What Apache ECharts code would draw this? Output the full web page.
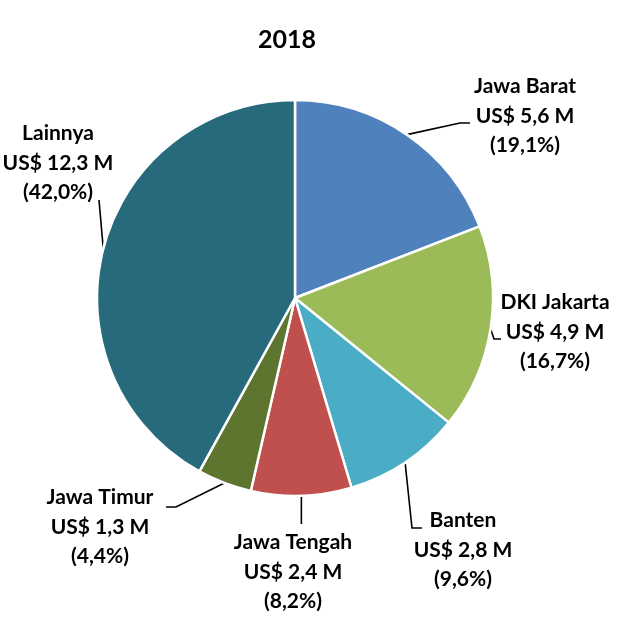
<!DOCTYPE html>
<html>
<head>
<meta charset="utf-8">
<script src="https://cdn.jsdelivr.net/npm/echarts@6/dist/echarts.min.js"></script>
<style>
  html, body { margin: 0; padding: 0; background: #fff; }
  #chart { width: 625px; height: 620px; }
</style>
</head>
<body>
<div id="chart"></div>
<script>
// Investment by province, 2018 (US$ million)
const regions = ['Jawa Barat', 'DKI Jakarta', 'Banten', 'Jawa Tengah', 'Jawa Timur', 'Lainnya'];
const values = [5.6, 4.9, 2.8, 2.4, 1.3, 12.3];
const shares = [19.1, 16.7, 9.6, 8.2, 4.4, 42.0];
const colors = ['#4F81BD', '#9BBB59', '#4BACC6', '#C0504D', '#5E7530', '#276A7C'];

// Label block centres and the elbow of each leader line (null x = keep the line vertical)
const labelSpots = [
  { x: 525, y: 116, elbow: [[460, 123], [470, 123]] },
  { x: 555, y: 332, elbow: [[494, 339], [501, 339]] },
  { x: 463, y: 550, elbow: [[412, 528], [422, 528]] },
  { x: 293, y: 572, elbow: [[null, 524], [null, 524]] },
  { x: 100, y: 527, elbow: [[176, 507], [166, 507]] },
  { x: 58,  y: 163, elbow: [[99, 200], [99, 200]] }
];

const fmt = v => v.toFixed(1).replace('.', ',');

const chart = echarts.init(document.getElementById('chart'), null, { renderer: 'canvas' });
chart.setOption({
  animation: false,
  title: {
    text: '2018',
    left: 253,
    top: 22,
    textStyle: { fontFamily: 'Lato', fontWeight: 'bold', fontSize: 25, color: '#000' }
  },
  series: [{
    type: 'pie',
    center: [295, 298],
    radius: [0, 198],
    startAngle: 90,
    clockwise: true,
    data: regions.map((r, i) => ({ name: r, value: values[i], itemStyle: { color: colors[i] } })),
    itemStyle: { borderColor: '#fff', borderWidth: 2.5 },
    label: {
      show: true,
      position: 'outside',
      alignTo: 'none',
      overflow: 'none',
      formatter: p => `${p.name}\nUS$ ${fmt(values[p.dataIndex])} M\n(${fmt(shares[p.dataIndex])}%)`,
      fontFamily: 'Lato',
      fontWeight: 'bold',
      fontSize: 21,
      lineHeight: 29.5,
      color: '#000',
      align: 'center'
    },
    labelLine: {
      show: true,
      lineStyle: { color: '#000', width: 1.6 }
    },
    labelLayout: p => {
      const s = labelSpots[p.dataIndex];
      const start = p.labelLinePoints ? p.labelLinePoints[0] : [s.x, s.y];
      const pts = s.elbow.map(e => [e[0] === null ? start[0] : e[0], e[1]]);
      return {
        x: s.x,
        y: s.y,
        width: 200,
        align: 'center',
        verticalAlign: 'middle',
        labelLinePoints: [start, pts[0], pts[1]]
      };
    }
  }]
});
</script>
</body>
</html>
